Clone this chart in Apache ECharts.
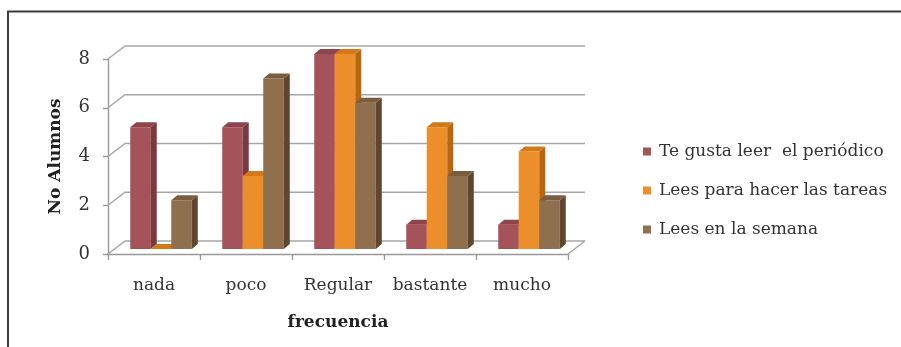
<!DOCTYPE html>
<html>
<head>
<meta charset="utf-8">
<script src="https://cdn.jsdelivr.net/npm/echarts@6/dist/echarts.min.js"></script>
<style>
  html, body { margin: 0; padding: 0; background: #fff; }
  #chart { width: 901px; height: 347px; }
</style>
</head>
<body>
<div id="chart"></div>
<script>
// Survey answers: how often students read, per frequency bucket
const categories = ['nada', 'poco', 'Regular', 'bastante', 'mucho'];
const seriesNames = ['Te gusta leer  el periódico', 'Lees para hacer las tareas', 'Lees en la semana'];
const gustaLeer = [5, 5, 8, 1, 1];
const tareas = [0, 3, 8, 5, 4];
const semana = [2, 7, 6, 3, 2];
const yTicks = [0, 2, 4, 6, 8];

// Face colours for each series: front, top, side
const palette = [
  { front: '#A5535B', top: '#8F434B', side: '#7A3940' },
  { front: '#EC8F2B', top: '#D47819', side: '#B8660F' },
  { front: '#8F6F4D', top: '#7A5C3E', side: '#5E4630' }
];

const FONT = '"DejaVu Serif", "Liberation Serif", serif';
const WALL_DX = 17, WALL_DY = 13;   // depth of the back wall
const BAR_DX = 7, BAR_DY = 5;       // bars stand part-way into the depth
const BAR_DEPTH_X = 6, BAR_DEPTH_Y = 5;
const BAR_FRAC = 0.223;

function barRenderer(sIdx) {
  return function (params, api) {
    const cat = api.value(0);
    const val = api.value(1);
    const catW = api.size([1, 0])[0];
    const bw = catW * BAR_FRAC;
    const cx = api.coord([cat, 0])[0];
    const x0 = cx - 1.5 * bw + sIdx * bw + BAR_DX;
    const x1 = x0 + bw;
    const yb = api.coord([cat, 0])[1] - BAR_DY;
    const yt = api.coord([cat, val])[1] - BAR_DY;
    const c = palette[sIdx];
    const dx = BAR_DEPTH_X, dy = BAR_DEPTH_Y;
    const children = [];
    if (yb - yt > 0.5) {
      children.push({ type: 'rect', shape: { x: x0, y: yt, width: bw, height: yb - yt }, style: { fill: c.front } });
      children.push({ type: 'polygon', shape: { points: [[x1, yt], [x1 + dx, yt - dy], [x1 + dx, yb - dy], [x1, yb]] }, style: { fill: c.side } });
    }
    children.push({ type: 'polygon', shape: { points: [[x0, yt], [x0 + dx, yt - dy], [x1 + dx, yt - dy], [x1, yt]] }, style: { fill: c.top } });
    return { type: 'group', children: children };
  };
}

function wallRenderer(params, api) {
  const cs = params.coordSys;
  const v = api.value(0);
  const y = api.coord([0, v])[1];
  const xl = cs.x, xr = cs.x + cs.width;
  const children = [{
    type: 'polyline',
    shape: { points: [[xl, y], [xl + WALL_DX, y - WALL_DY], [xr + WALL_DX, y - WALL_DY]] },
    style: { stroke: '#A6A6A6', lineWidth: 1.4, fill: null }
  }];
  if (v === 0) {
    children.push({
      type: 'line',
      shape: { x1: xr, y1: y, x2: xr + WALL_DX, y2: y - WALL_DY },
      style: { stroke: '#A6A6A6', lineWidth: 1.4 }
    });
  }
  return { type: 'group', children: children };
}

const values = [gustaLeer, tareas, semana];

const chart = echarts.init(document.getElementById('chart'), null, { renderer: 'canvas' });
chart.setOption({
  animation: false,
  backgroundColor: '#fff',
  graphic: [{
    type: 'polyline',
    shape: { points: [[8, 347], [8, 11.5], [901, 11.5]] },
    style: { stroke: '#3C3C3C', lineWidth: 2, fill: null },
    z: 10
  }],
  grid: { left: 108, right: 333, top: 59, bottom: 93 },
  legend: {
    orient: 'vertical',
    left: 638,
    top: 138,
    itemGap: 22,
    itemWidth: 8,
    itemHeight: 8,
    icon: 'rect',
    textStyle: { fontFamily: FONT, fontSize: 17, color: '#333', padding: [0, 0, 0, 3] },
    data: seriesNames
  },
  xAxis: {
    type: 'category',
    data: categories,
    boundaryGap: true,
    name: 'frecuencia',
    nameLocation: 'middle',
    nameGap: 60,
    nameTextStyle: { fontFamily: FONT, fontSize: 17, fontWeight: 'bold', color: '#222' },
    axisLine: { lineStyle: { color: '#999', width: 1.4 } },
    axisTick: { show: true, length: 6, lineStyle: { color: '#999', width: 1.4 } },
    axisLabel: { interval: 0, hideOverlap: false, fontFamily: FONT, fontSize: 17, color: '#333', margin: 23 },
    splitLine: { show: false }
  },
  yAxis: {
    type: 'value',
    min: 0,
    max: 8,
    interval: 2,
    name: 'No Alumnos',
    nameLocation: 'middle',
    nameGap: 44,
    nameRotate: 90,
    nameTextStyle: { fontFamily: FONT, fontSize: 17, fontWeight: 'bold', color: '#222' },
    axisLine: { show: true, lineStyle: { color: '#999', width: 1.4 } },
    axisTick: { show: true, length: 5, lineStyle: { color: '#999', width: 1.4 } },
    axisLabel: { fontFamily: FONT, fontSize: 18, color: '#333', margin: 18 },
    splitLine: { show: false }
  },
  series: [
    {
      type: 'custom',
      name: 'wall',
      renderItem: wallRenderer,
      data: yTicks.map(function (t) { return [t]; }),
      encode: { y: 0 },
      silent: true,
      z: 1
    }
  ].concat(seriesNames.map(function (name, s) {
    return {
      type: 'custom',
      name: name,
      color: palette[s].front,
      renderItem: barRenderer(s),
      data: values[s].map(function (v, i) { return [i, v]; }),
      encode: { x: 0, y: 1 },
      z: 2 + s
    };
  }))
});
</script>
</body>
</html>
